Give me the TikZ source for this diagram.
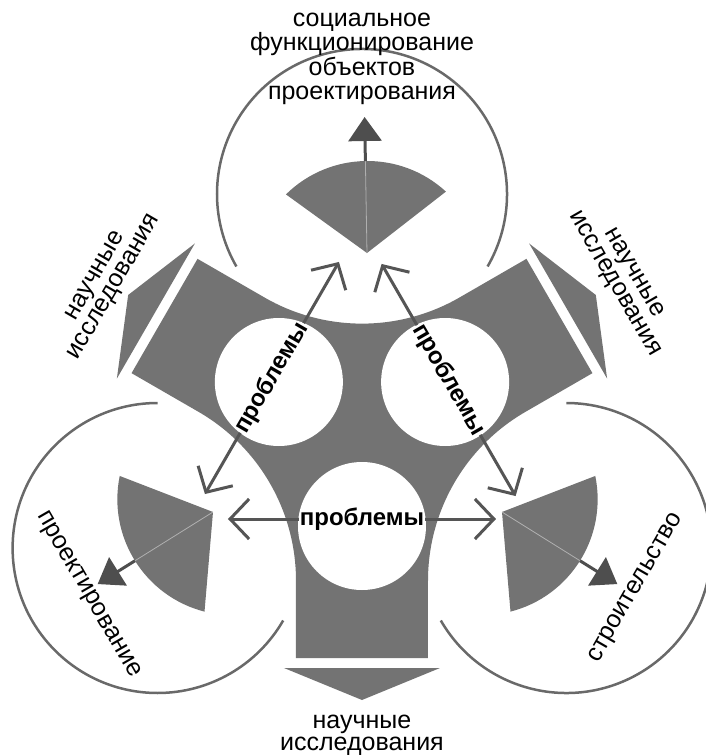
\documentclass[tikz,border=0pt]{standalone}
\usepackage{fontspec}
\setmainfont{Liberation Sans}
\usetikzlibrary{calc,arrows.meta}
\definecolor{armgray}{RGB}{115,115,115}
\definecolor{ringgray}{RGB}{105,105,105}
\definecolor{linkgray}{RGB}{85,85,85}
\definecolor{tipgray}{RGB}{78,78,78}
\definecolor{seamgray}{RGB}{175,175,175}
\begin{document}
\begin{tikzpicture}[x=1pt,y=1pt,
  armfill/.style={fill=armgray},
  ring/.style={draw=ringgray, line width=2.5pt},
  hole/.style={fill=white},
  seam/.style={draw=seamgray, line width=0.8pt},
  outarrow/.style={draw=tipgray, line width=3pt, -{Triangle[length=24pt,width=33pt]}},
  linkarrow/.style={draw=linkgray, line width=3pt, -{Straight Barb[length=19pt,width=40pt]}},
  linklabel/.style={font=\fontsize{24}{24}\selectfont\bfseries, inner sep=1pt},
  caption/.style={font=\fontsize{25}{22}\selectfont, align=center, inner sep=0pt},
]
\useasboundingbox (-362,-326) rectangle (344,430);

% three-armed body: strips of half-width 66 joined by fillets of radius 195
\fill[armfill]
  ($(30:228)+(120:-66)$) -- ($(30:228)+(120:66)$) -- ($(30:150.7)+(120:66)$)
  arc[start angle=-60, end angle=-120, radius=195]
  -- ($(150:228)+(240:-66)$) -- ($(150:228)+(240:66)$) -- ($(150:150.7)+(240:66)$)
  arc[start angle=60, end angle=0, radius=195]
  -- ($(270:228)+(0:-66)$) -- ($(270:228)+(0:66)$) -- ($(270:150.7)+(0:66)$)
  arc[start angle=180, end angle=120, radius=195]
  -- cycle;

% white openings inside the arms
\foreach \a in {30,150,270}
  \fill[hole] (\a:96) circle[radius=64];

% arrow-shaped caps beyond the arm ends
\foreach \a in {30,150,270}
  \fill[armfill] ($(\a:238)+(\a+90:-78)$) -- ($(\a:238)+(\a+90:78)$) -- (\a:270) -- cycle;

% open rings around the three fields
\foreach \a in {90,210,330}
  \draw[ring] ($(\a:236)+(\a-120:145)$) arc[start angle=\a-120, end angle=\a+120, radius=145];

% fan-shaped blocks with their outgoing arrows
\foreach \px/\py/\r/\n in {5/177/1/top,-149/-82/122/left,140/-82/238/right}{
  \begin{scope}[shift={(\px,\py)}, rotate=\r]
    \coordinate (apex-\n) at (0,0);
    \coordinate (rim-\n) at (0,92);
    \coordinate (out-\n) at (0,136);
    \fill[armfill] (apex-\n) -- (-80,60) arc[start angle=133.6, end angle=46.4, radius=116] -- cycle;
    \draw[seam] (apex-\n) -- (rim-\n);
    \draw[outarrow] (rim-\n) -- (out-\n);
  \end{scope}
}

% problem links between the fields
\node[linklabel] (prob-b) at (270:89) {проблемы};
\coordinate (pb-l) at ($(270:89)+(0:-134)$);
\coordinate (pb-r) at ($(270:89)+(0:134)$);
\draw[linkarrow] (prob-b) -- (pb-l);
\draw[linkarrow] (prob-b) -- (pb-r);

\node[linklabel, rotate=60] (prob-l) at (150:104) {проблемы};
\coordinate (pl-t) at ($(150:104)+(240:-134)$);
\coordinate (pl-b) at ($(150:104)+(240:134)$);
\draw[linkarrow] (prob-l) -- (pl-t);
\draw[linkarrow] (prob-l) -- (pl-b);

\node[linklabel, rotate=-60] (prob-r) at (30:100) {проблемы};
\coordinate (pr-t) at ($(30:100)+(120:134)$);
\coordinate (pr-b) at ($(30:100)+(120:-134)$);
\draw[linkarrow] (prob-r) -- (pr-t);
\draw[linkarrow] (prob-r) -- (pr-b);

% captions
\node[caption, font=\fontsize{25}{24.5}\selectfont] (social) at (0,371)
  {социальное\\функционирование\\объектов\\проектирования};
\node[caption] (sci-b) at (270:305) {научные\\исследования};
\node[caption, rotate=60] (sci-l) at (150:296) {научные\\исследования};
\node[caption, rotate=-60] (sci-r) at (30:302) {научные\\исследования};
\node[caption, rotate=-60] (design) at (211:320) {проектирование};
\node[caption, rotate=60] (build) at (330:317) {строительство};
\end{tikzpicture}
\end{document}
